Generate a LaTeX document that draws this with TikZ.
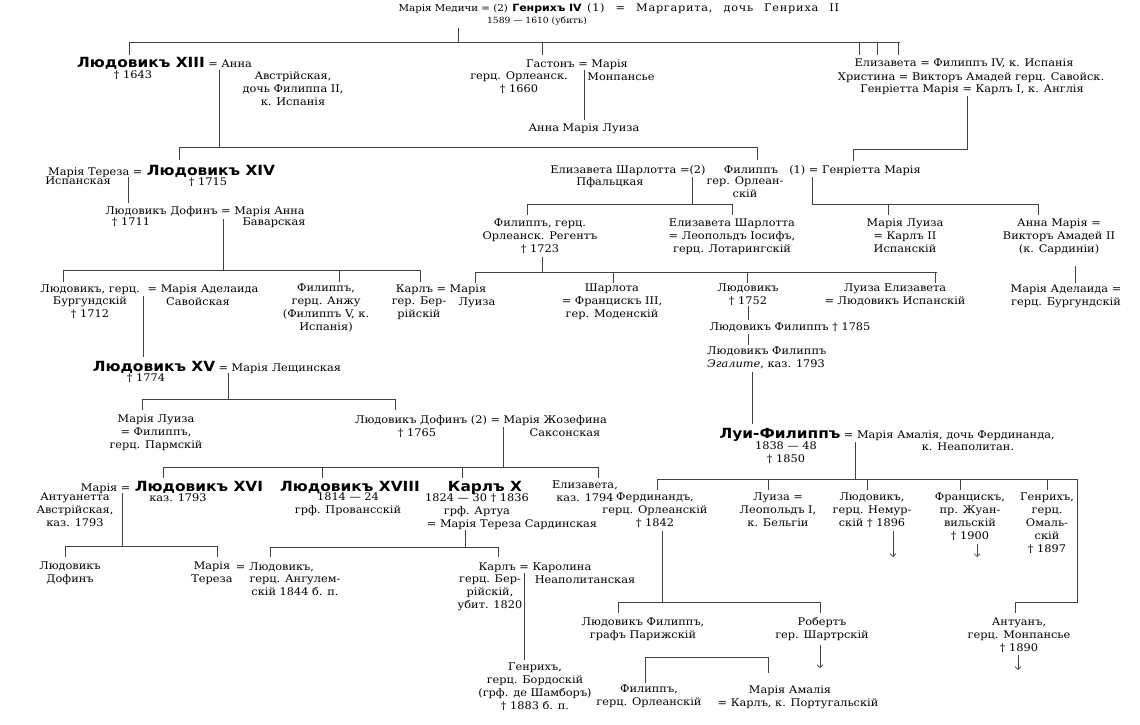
\documentclass[tikz,border=0pt]{standalone}
\usepackage{fontspec}
\setmainfont{DejaVu Serif}[FakeStretch=1.08]
\newfontfamily\kingfam[FakeStretch=1.1]{DejaVu Sans}
\usetikzlibrary{arrows.meta,positioning}

\newcommand{\rus}{\fontsize{10.5}{13}\selectfont}
\newcommand{\russmall}{\fontsize{9.5}{12}\selectfont}
\newcommand{\kingbig}{\kingfam\bfseries\fontsize{14}{16}\selectfont}
\newcommand{\kingsmall}{\kingfam\bfseries\fontsize{10}{12}\selectfont}

\begin{document}
\begin{tikzpicture}[x=1pt,y=-1pt,>={Straight Barb[length=3pt]},
  who/.style={inner sep=0pt, align=center, font=\rus, anchor=north, yshift=5.5pt,
    execute at begin node={\rule{0pt}{9pt}}},
  king/.style={inner sep=0pt, font=\kingbig, anchor=base, yshift=-5.1pt},
  side/.style={inner sep=0pt, font=\rus},
  tie/.style={line width=0.6pt, black!75}]
\useasboundingbox (0,0) rectangle (1140,724);

% Генрихъ IV
\node[king, font=\kingsmall, yshift=1.4pt] (h4) at (547,8) {Генрихъ IV};
\node[side, font=\russmall, base left=4pt of h4] (medici) {Марія Медичи = (2)};
\node[side, base right=5pt of h4] (marg)
  {\addfontfeature{LetterSpace=7}\spaceskip=11pt (1) = Маргарита, дочь Генриха II};
\node[who, font=\fontsize{8.5}{12}\selectfont] (h4d) at (537,20) {1589 — 1610 (убитъ)};
\draw[tie] (458,28) -- (458,42);
\draw[tie] (129,42) -- (900,42);
\foreach \x in {129,542,859,877,898} \draw[tie] (\x,42) -- (\x,55);

% Людовикъ XIII
\node[king] (l13) at (141,62) {Людовикъ XIII};
\node[side, base right=3pt of l13] (anna) {= Анна};
\node[who] (l13d) at (133,75) {† 1643};
\node[who] (annab) at (293,77) {Австрійская,\\дочь Филиппа II,\\к. Испанія};
\draw[tie] (219,70) -- (219,147);
\draw[tie] (179,147) -- (757,147);
\foreach \x in {179,757} \draw[tie] (\x,147) -- (\x,160);

% Гастонъ
\node[who] (gast) at (577,64) {Гастонъ = Марія};
\node[who] (gastb) at (519,77) {герц. Орлеанск.\\† 1660};
\node[who] (mont) at (621,77) {Монпансье};
\draw[tie] (584,70) -- (584,120);
\node[who] (amlz) at (584,128) {Анна Марія Луиза};

% дочери
\node[who] (eliz) at (964,63) {Елизавета = Филиппъ IV, к. Испанія};
\node[who] (chr) at (971,77) {Христина = Викторъ Амадей герц. Савойск.};
\node[who] (hmar) at (972,89) {Генріетта Марія = Карлъ I, к. Англія};
\draw[tie] (967,96) -- (967,149) -- (853,149) -- (853,161);

% Людовикъ XIV
\node[king] (l14) at (211,170) {Людовикъ XIV};
\node[side, base left=4pt of l14] (mter) {Марія Тереза =};
\node[who] (mterb) at (78,181) {Испанская};
\node[who] (l14d) at (208,182) {† 1715};
\draw[tie] (128,177) -- (128,203);
\node[who] (ldau) at (205,211) {Людовикъ Дофинъ = Марія Анна};
\node[who] (ldaud) at (131,222) {† 1711};
\node[who] (manb) at (274,222) {Баварская};
\draw[tie] (223,219) -- (223,270);
\draw[tie] (63,270) -- (420,270);
\foreach \x in {63,339,420} \draw[tie] (\x,270) -- (\x,282);

% Филиппъ Орлеанскій
\node[who] (es) at (628,170) {Елизавета Шарлотта =(2)};
\node[who] (phm) at (751,170) {Филиппъ};
\node[who] (hm2) at (855,170) {(1) = Генріетта Марія};
\node[who] (pfalz) at (610,182) {Пфальцкая};
\node[who] (phmb) at (745,182) {гер. Орлеан-\\скій};
\draw[tie] (692,177) -- (692,204);
\draw[tie] (527,204) -- (732,204);
\foreach \x in {527,732} \draw[tie] (\x,204) -- (\x,215);
\draw[tie] (812,177) -- (812,204) -- (1038,204);
\foreach \x in {888,1038} \draw[tie] (\x,204) -- (\x,215);

\node[who] (reg) at (540,224) {Филиппъ, герц.\\Орлеанск. Регентъ\\† 1723};
\node[who] (esl) at (732,224) {Елизавета Шарлотта\\= Леопольдъ Іосифъ,\\герц. Лотарингскій};
\node[who] (mlc) at (905,224) {Марія Луиза\\= Карлъ II\\Испанскій};
\node[who] (amv) at (1059,224) {Анна Марія =\\Викторъ Амадей II\\(к. Сардиніи)};
\draw[tie] (542,257) -- (542,272);
\draw[tie] (475,272) -- (937,272);
\foreach \x in {475,613,747,935} \draw[tie] (\x,272) -- (\x,283);
\draw[tie] (1075,266) -- (1075,283);
\node[who] (mad2) at (1066,290) {Марія Аделаида =\\герц. Бургундскій};

% внуки Людовика XIV
\node[who] (lbg) at (90,289) {Людовикъ, герц.};
\node[who] (mad) at (203,289) {= Марія Аделаида};
\node[who] (lbgb) at (90,302) {Бургундскій\\† 1712};
\node[who] (madb) at (198,302) {Савойская};
\draw[tie] (143,296) -- (143,357);
\node[who] (fanj) at (326,289) {Филиппъ,\\герц. Анжу\\(Филиппъ V, к.\\Испанія)};
\node[who] (kberry) at (441,289) {Карлъ = Марія};
\node[who] (kberryb) at (419,302) {гер. Бер-\\рійскій};
\node[who] (mlz) at (477,302) {Луиза};
\node[who] (charl) at (612,289) {Шарлота\\= Францискъ III,\\гер. Моденскій};
\node[who] (l1752) at (748,289) {Людовикъ\\† 1752};
\node[who] (lei) at (895,289) {Луиза Елизавета\\= Людовикъ Испанскій};
\draw[tie] (l1752.south) -- (748,320);
\node[who] (lp85) at (790,327) {Людовикъ Филиппъ † 1785};
\draw[tie] (748,334) -- (748,345);
\node[who, anchor=north west, align=left] (lpe) at (707,352) {Людовикъ Филиппъ\\{\itshape Эгалите}, каз. 1793};
\draw[tie] (752,372) -- (752,424);

% Людовикъ XV
\node[king] (l15) at (154,366) {Людовикъ XV};
\node[side, base right=3pt of l15] (mlesz) {= Марія Лещинская};
\node[who] (l15d) at (146,378) {† 1774};
\draw[tie] (228,373) -- (228,399);
\draw[tie] (142,399) -- (395,399);
\foreach \x in {142,395} \draw[tie] (\x,399) -- (\x,410);
\node[who] (mlp) at (156,420) {Марія Луиза\\= Филиппъ,\\герц. Пармскій};
\node[who] (ldau2) at (481,420) {Людовикъ Дофинъ (2) = Марія Жозефина};
\node[who] (ldau2d) at (417,433) {† 1765};
\node[who] (mjs) at (565,433) {Саксонская};
\draw[tie] (503,427) -- (503,467);
\draw[tie] (163,467) -- (598,467);
\foreach \x in {163,322,462,598} \draw[tie] (\x,467) -- (\x,478);

% Луи-Филиппъ
\node[king] (lph) at (780,433) {Луи-Филиппъ};
\node[side, base right=3pt of lph] (mam1) {= Марія Амалія, дочь Фердинанда,};
\node[who] (mam1b) at (968,447) {к. Неаполитан.};
\node[who] (lphd) at (786,447) {1838 — 48\\† 1850};
\draw[tie] (855,442) -- (855,479);
\draw[tie] (657,479) -- (1077,479) -- (1077,602) -- (1015,602) -- (1015,613);
\foreach \x in {657,768,867,960,1047} \draw[tie] (\x,479) -- (\x,490);

% дети Людовика Дофина
\node[king] (l16) at (199,486) {Людовикъ XVI};
\node[side, base left=4pt of l16] (mant) {Марія =};
\node[who] (mantb) at (75,498) {Антуанетта\\Австрійская,\\каз. 1793};
\node[who] (l16d) at (178,498) {каз. 1793};
\draw[tie] (122,493) -- (122,546);
\draw[tie] (65,546) -- (217,546);
\foreach \x in {65,217} \draw[tie] (\x,546) -- (\x,557);
\node[king] (l18) at (350,486) {Людовикъ XVIII};
\node[who] (l18b) at (348,498) {1814 — 24\\грф. Провансскій};
\node[king] (c10) at (485,486) {Карлъ X};
\node[who] (c10b) at (477,499) {1824 — 30 † 1836\\грф. Артуа};
\node[who] (c10m) at (512,524) {= Марія Тереза Сардинская};
\draw[tie] (465,530) -- (465,547);
\draw[tie] (270,547) -- (498,547);
\foreach \x in {270,498} \draw[tie] (\x,547) -- (\x,557);
\node[who] (eliz2) at (585,486) {Елизавета,\\каз. 1794};

% дети Луи-Филиппа
\node[who] (ferd) at (655,498) {Фердинандъ,\\герц. Орлеанскій\\† 1842};
\node[who] (lou) at (778,498) {Луиза =\\Леопольдъ I,\\к. Бельгіи};
\node[who] (nem) at (872,498) {Людовикъ,\\герц. Немур-\\скій † 1896};
\node[who] (joinv) at (970,498) {Францискъ,\\пр. Жуан-\\вильскій\\† 1900};
\node[who] (aum) at (1047,498) {Генрихъ,\\герц.\\Омаль-\\скій\\† 1897};
\draw[tie,->] (893,531) -- (893,557);
\draw[tie,->] (977,544) -- (977,557);
\draw[tie] (662,531) -- (662,602);
\draw[tie] (618,602) -- (820,602);
\foreach \x in {618,820} \draw[tie] (\x,602) -- (\x,613);

\node[who] (ld17) at (70,567) {Людовикъ\\Дофинъ};
\node[who] (mtr) at (212,567) {Марія\\Тереза};
\node[who] (lang) at (275,567) {= Людовикъ,};
\node[who] (langb) at (295,580) {герц. Ангулем-\\скій 1844 б. п.};
\node[who] (berry) at (535,567) {Карлъ = Каролина};
\node[who] (berryb) at (490,580) {герц. Бер-\\рійскій,\\убит. 1820};
\node[who] (carol) at (585,580) {Неаполитанская};
\draw[tie] (524,573) -- (524,660);
\node[who] (chamb) at (535,668) {Генрихъ,\\герц. Бордоскій\\(грф. де Шамборъ)\\† 1883 б. п.};

\node[who] (paris) at (643,623) {Людовикъ Филиппъ,\\графъ Парижскій};
\node[who] (rob) at (822,623) {Робертъ\\гер. Шартрскій};
\draw[tie,->] (820,645) -- (820,668);
\node[who] (ant) at (1019,623) {Антуанъ,\\герц. Монпансье\\† 1890};
\draw[tie,->] (1018,655) -- (1018,670);
\draw[tie] (645,683) -- (645,657) -- (768,657) -- (768,673);
\node[who] (phor) at (649,690) {Филиппъ,\\герц. Орлеанскій};
\node[who] (mam2) at (790,690) {Марія Амалія};
\node[who] (mam2b) at (798,703) {= Карлъ, к. Португальскій};
\end{tikzpicture}
\end{document}
